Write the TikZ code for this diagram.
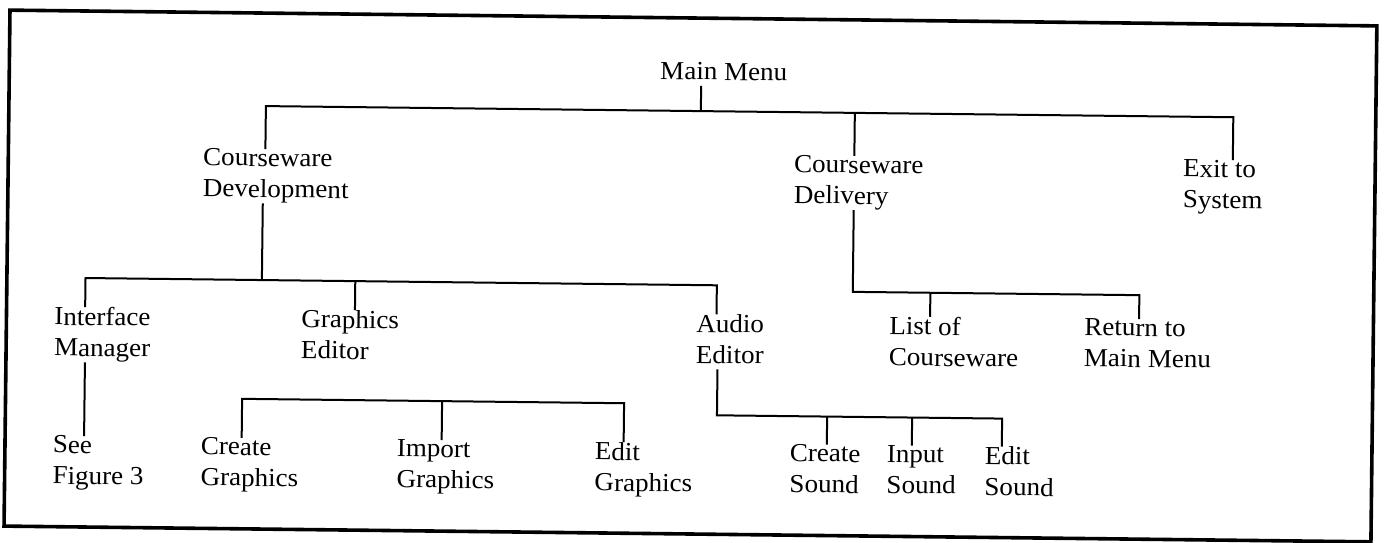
\documentclass[tikz,border=0pt]{standalone}
\usepackage{fontspec}
\setmainfont{Liberation Serif}[FakeStretch=1.04]
\newcommand{\menustrut}{\rule[-3pt]{0pt}{13.85pt}}

\begin{document}
\begin{tikzpicture}[
  x=0.5pt, y=-0.5pt,
  item/.style={anchor=north west, align=left, inner sep=0pt, outer sep=0pt,
               font=\fontsize{13}{15.5}\selectfont,
               execute at begin node=\menustrut, execute at end node=\menustrut},
  link/.style={line width=1pt},
  border/.style={line width=1.8pt},
]
\useasboundingbox (0,0) rectangle (1384,542);
\begin{scope}[transform canvas={rotate around={-0.66:(692,271)}}]
\draw[border] (7,18) rectangle (1374,534);

% ---- menu items ----
\node[item] (mainmenu) at (658,58) {Main Menu};
\node[item] (cdev) at (202,154) {Courseware\\Development};
\node[item] (cdel) at (793,154) {Courseware\\Delivery};
\node[item] (exitsys) at (1182,154) {Exit to\\System};
\node[item] (iface) at (55,314) {Interface\\Manager};
\node[item] (gedit) at (302,314) {Graphics\\Editor};
\node[item] (aedit) at (697,314) {Audio\\Editor};
\node[item] (listcw) at (890,314) {List of\\Courseware};
\node[item] (retmm) at (1085,314) {Return to\\Main Menu};
\node[item] (seefig) at (55,443) {See\\Figure 3};
\node[item] (cgfx) at (203,443) {Create\\Graphics};
\node[item] (igfx) at (399,443) {Import\\Graphics};
\node[item] (egfx) at (597,443) {Edit\\Graphics};
\node[item] (csnd) at (792,443) {Create\\Sound};
\node[item] (isnd) at (889,443) {Input\\Sound};
\node[item] (esnd) at (987,443) {Edit\\Sound};

% ---- bus levels ----
\coordinate (topbus) at (0,111);
\coordinate (devbus) at (0,285);
\coordinate (delbus) at (0,290);
\coordinate (gfxbus) at (0,404);
\coordinate (audbus) at (0,415);

% ---- main menu ----
\coordinate (mm-s) at ([xshift=20.5pt]mainmenu.south west);
\coordinate (cdev-n) at ([xshift=31pt]cdev.north west);
\coordinate (cdel-n) at ([xshift=30pt]cdel.north west);
\coordinate (exit-n) at ([xshift=24.75pt]exitsys.north west);
\draw[link] (mm-s) -- (mm-s |- topbus);
\draw[link] (cdev-n) |- (exit-n |- topbus) -- (exit-n);
\draw[link] (cdel-n) -- (cdel-n |- topbus);

% ---- courseware development ----
\coordinate (cdev-s) at ([xshift=30pt]cdev.south west);
\coordinate (iface-n) at ([xshift=15.3pt]iface.north west);
\coordinate (gedit-n) at ([xshift=26.7pt]gedit.north west);
\coordinate (aedit-n) at ([xshift=10pt]aedit.north west);
\draw[link] (cdev-s) -- (cdev-s |- devbus);
\draw[link] (iface-n) |- (aedit-n |- devbus) -- (aedit-n);
\draw[link] (gedit-n) -- (gedit-n |- devbus);

% ---- courseware delivery ----
\coordinate (cdel-s) at ([xshift=30pt]cdel.south west);
\coordinate (listcw-n) at ([xshift=20.3pt]listcw.north west);
\coordinate (retmm-n) at ([xshift=27.3pt]retmm.north west);
\draw[link] (cdel-s) |- (retmm-n |- delbus) -- (retmm-n);
\draw[link] (listcw-n) -- (listcw-n |- delbus);

% ---- interface manager ----
\coordinate (iface-s) at ([xshift=15.5pt]iface.south west);
\draw[link] (iface-s) -- (iface-s |- seefig.north);

% ---- graphics ----
\coordinate (cgfx-n) at ([xshift=20.3pt]cgfx.north west);
\coordinate (igfx-n) at ([xshift=22.3pt]igfx.north west);
\coordinate (egfx-n) at ([xshift=14.3pt]egfx.north west);
\draw[link] (cgfx-n) |- (egfx-n |- gfxbus) -- (egfx-n);
\draw[link] (igfx-n) -- (igfx-n |- gfxbus);

% ---- audio editor ----
\coordinate (aedit-s) at ([xshift=10.8pt]aedit.south west);
\coordinate (csnd-n) at ([xshift=18.4pt]csnd.north west);
\coordinate (isnd-n) at ([xshift=12.4pt]isnd.north west);
\coordinate (esnd-n) at ([xshift=8.4pt]esnd.north west);
\draw[link] (aedit-s) |- (esnd-n |- audbus) -- (esnd-n);
\draw[link] (csnd-n) -- (csnd-n |- audbus);
\draw[link] (isnd-n) -- (isnd-n |- audbus);
\end{scope}
\end{tikzpicture}
\end{document}
